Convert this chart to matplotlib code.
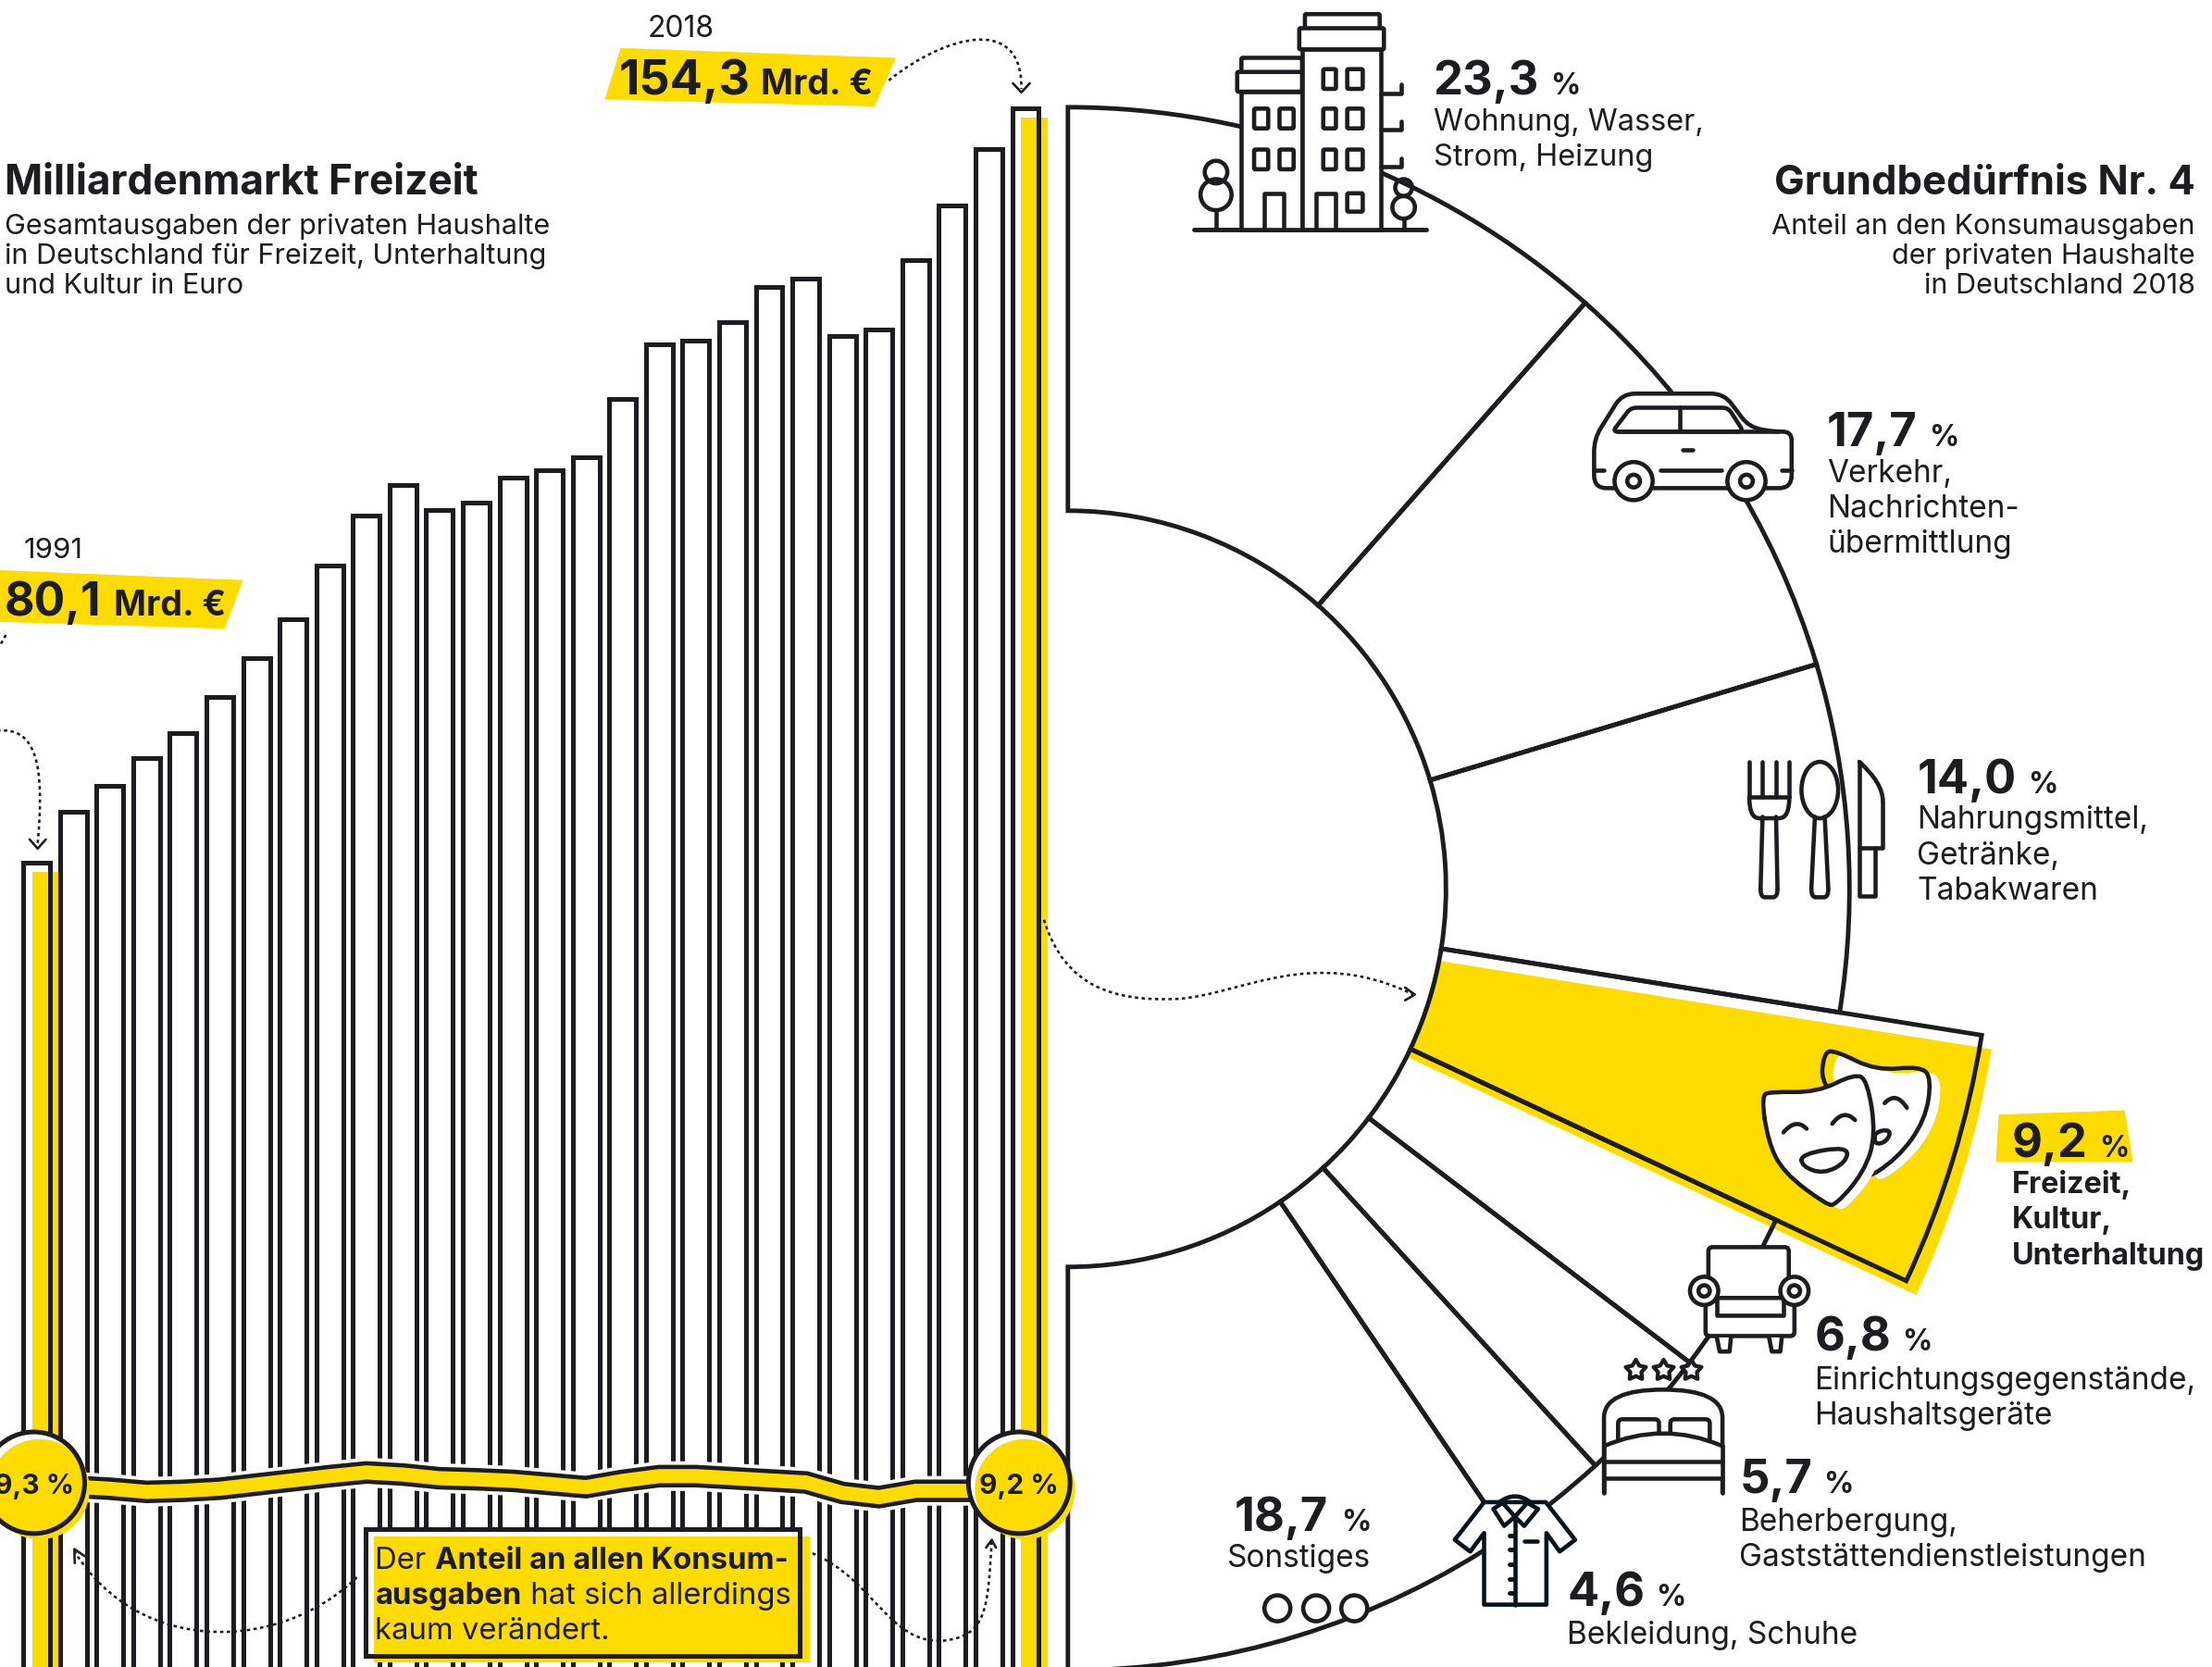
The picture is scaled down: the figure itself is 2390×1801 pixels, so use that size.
import numpy as np
import matplotlib
matplotlib.use("Agg")
import matplotlib.pyplot as plt
from matplotlib.patches import Wedge, Polygon, Circle, Rectangle, FancyBboxPatch, PathPatch, Ellipse
from matplotlib.path import Path

plt.rcParams['font.family'] = ['Inter', 'Open Sans', 'DejaVu Sans']

# ---------- data ----------
years = list(range(1991, 2019))
spending = [80.1, 85.1, 87.7, 90.4, 92.9, 96.4, 100.2, 104.1, 109.3, 114.3, 117.3, 114.8, 115.5, 118.0,
            118.7, 120.0, 125.7, 131.1, 131.5, 133.3, 136.8, 137.6, 131.9, 132.6, 139.4, 144.8, 150.3, 154.3]
share = [9.30, 9.28, 9.24, 9.18, 9.20, 9.24, 9.32, 9.40, 9.48, 9.55, 9.51, 9.44, 9.42, 9.39,
         9.33, 9.27, 9.39, 9.48, 9.48, 9.44, 9.40, 9.36, 9.16, 9.08, 9.20, 9.20, 9.20, 9.20]
segments = [23.3, 17.7, 14.0, 9.2, 6.8, 5.7, 4.6, 18.7]
seg_labels = ["23,3", "17,7", "14,0", "9,2", "6,8", "5,7", "4,6", "18,7"]
seg_names = [["Wohnung, Wasser,", "Strom, Heizung"],
             ["Verkehr,", "Nachrichten-", "übermittlung"],
             ["Nahrungsmittel,", "Getränke,", "Tabakwaren"],
             ["Freizeit,", "Kultur,", "Unterhaltung"],
             ["Einrichtungsgegenstände,", "Haushaltsgeräte"],
             ["Beherbergung,", "Gaststättendienstleistungen"],
             ["Bekleidung, Schuhe"],
             ["Sonstiges"]]
title_left = "Milliardenmarkt Freizeit"
sub_left = ["Gesamtausgaben der privaten Haushalte", "in Deutschland für Freizeit, Unterhaltung", "und Kultur in Euro"]
title_right = "Grundbedürfnis Nr. 4"
sub_right = ["Anteil an den Konsumausgaben", "der privaten Haushalte", "in Deutschland 2018"]

# ---------- canvas ----------
DARK = '#1d1d21'
YEL = '#ffdc00'
W, H = 1568.0, 1181.6
S = 2390 / W
def L(u):
    return u * S * 0.72

fig = plt.figure(figsize=(23.9, 18.01), dpi=100, facecolor='white')

def yr_at(x):
    return 1991 + (x - 26) / 25.96
def val_at(y):
    return 80.1 + (611.5 - y) * 74.2 / 534.5
def shr_at(y):
    return 9.3 + (1053 - y) / 37.2

# ---------- bars ----------
axb = fig.add_axes([0, 0, 1, 1], zorder=1)
axb.set_xlim(yr_at(0), yr_at(W)); axb.set_ylim(val_at(H), val_at(0)); axb.axis('off')
bw = 19 / 25.96
axb.bar(years, spending, width=bw, color='white', edgecolor='none', zorder=1)
for i in (0, len(years) - 1):
    axb.bar(years[i] + 0.25, spending[i] - 0.9, width=bw, color=YEL, edgecolor='none', zorder=2)
axb.bar(years, spending, width=bw, facecolor='none', edgecolor=DARK, linewidth=L(3.3), zorder=3)

# ---------- share band ----------
axs = fig.add_axes([0, 0, 1, 1], zorder=2)
axs.set_xlim(yr_at(0), yr_at(W)); axs.set_ylim(shr_at(H), shr_at(0)); axs.axis('off')
axs.patch.set_alpha(0)
axs.plot(years, share, color='white', lw=L(21), solid_capstyle='butt', solid_joinstyle='miter')
axs.plot(years, share, color=DARK, lw=L(16), solid_capstyle='butt', solid_joinstyle='miter')
axs.plot(years, share, color=YEL, lw=L(10), solid_capstyle='butt', solid_joinstyle='miter')

# ---------- half donut ----------
cx, cy, R_out, R_in, R_hi = 757, 630, 554, 268, 656
axp = fig.add_axes([0, 0, 1, 1], zorder=3)
axp.patch.set_alpha(0)
wedges, _ = axp.pie(segments + [100], center=(cx, cy), radius=R_out, startangle=-90.5, counterclock=True,
                    wedgeprops=dict(width=R_out - R_in, linewidth=L(3.2), edgecolor=DARK, joinstyle='miter'))
wedges[-1].set_visible(False)
wedges[0].set_theta1(-90)
wedges[-2].set_theta2(90)
wedges[2].set_theta2(wedges[2].theta2 + 0.6)
wedges[3].set_theta1(wedges[3].theta1 + 0.6)
for w in wedges[:-1]:
    w.set_facecolor('none')
    w.set_zorder(5)
hi = wedges[3]
hi.set_radius(R_hi); hi.set_width(R_hi - R_in); hi.set_zorder(6)
axp.add_patch(Wedge((cx + 7, cy + 10), R_hi, hi.theta1, hi.theta2, fc=YEL, ec='none', zorder=1))
axp.add_patch(Wedge((cx, cy), R_in, -90, 90, fc='white', ec='none', zorder=2))
axp.set_xlim(0, W); axp.set_ylim(H, 0); axp.set_aspect('auto'); axp.axis('off')

# ---------- overlay ----------
ax = fig.add_axes([0, 0, 1, 1], zorder=4)
ax.set_xlim(0, W); ax.set_ylim(H, 0); ax.axis('off'); ax.patch.set_alpha(0)

LW = L(3.0)
def line(pts, closed=False, fc='none', lw=LW, ec=DARK, z=10, **k):
    ax.add_patch(Polygon(pts, closed=closed, fc=fc, ec=ec, lw=lw, zorder=z, joinstyle='round', capstyle='round', **k))
def rrect(x0, y0, x1, y1, r=2, fc='none', lw=LW, z=10):
    ax.add_patch(FancyBboxPatch((x0 + r, y0 + r), x1 - x0 - 2 * r, y1 - y0 - 2 * r,
                                boxstyle=f"round,pad={r},rounding_size={r}", fc=fc, ec=DARK, lw=lw, zorder=z))
def circ(x, y, r, fc='white', lw=LW, z=10, ec=DARK):
    ax.add_patch(Circle((x, y), r, fc=fc, ec=ec, lw=lw, zorder=z))
def smooth(pts, closed=True, fc='none', ec=DARK, lw=LW, z=10):
    pts = [np.array(p, float) for p in pts]
    n = len(pts)
    if closed:
        verts = [(pts[-1] + pts[0]) / 2]; codes = [Path.MOVETO]
        for i in range(n):
            verts += [pts[i], (pts[i] + pts[(i + 1) % n]) / 2]; codes += [Path.CURVE3, Path.CURVE3]
    else:
        verts = [pts[0]]; codes = [Path.MOVETO]
        for i in range(1, n - 1):
            end = (pts[i] + pts[i + 1]) / 2 if i < n - 2 else pts[i + 1]
            verts += [pts[i], end]; codes += [Path.CURVE3, Path.CURVE3]
    ax.add_patch(PathPatch(Path(verts, codes), fc=fc, ec=ec, lw=lw, zorder=z, capstyle='round', joinstyle='round'))
def round_poly(pts, r, fc='none', z=10):
    pts = [np.array(p, float) for p in pts]
    n = len(pts); verts = []; codes = []
    for i in range(n):
        p, a, b = pts[i], pts[i - 1], pts[(i + 1) % n]
        u1 = (a - p) / np.linalg.norm(a - p); u2 = (b - p) / np.linalg.norm(b - p)
        rr = min(r, np.linalg.norm(a - p) / 2, np.linalg.norm(b - p) / 2)
        verts += [p + u1 * rr, p, p + u2 * rr]
        codes += [Path.LINETO if i else Path.MOVETO, Path.CURVE3, Path.CURVE3]
    verts.append(verts[0]); codes.append(Path.CLOSEPOLY)
    ax.add_patch(PathPatch(Path(verts, codes), fc=fc, ec=DARK, lw=LW, zorder=z, joinstyle='round'))

def bez(*segs, head=None, lw=L(1.7)):
    verts = [segs[0][0]]; codes = [Path.MOVETO]
    for s in segs:
        verts += list(s[1:]); codes += [Path.CURVE4] * 3
    ax.add_patch(PathPatch(Path(verts, codes), fc='none', ec=DARK, lw=lw, ls=(0, (1.4, 1.4)), zorder=12))
    if head:
        line(head, lw=L(1.7), z=12)

# --- text helpers ---
rend = fig.canvas.get_renderer()
def T(x, y, s, size=24, weight='normal', ha='left', z=20):
    return ax.text(x, y, s, fontsize=size, fontweight=weight, color=DARK, ha=ha, va='baseline', zorder=z)
def run(x, y, parts):
    for s, size, weight, gap in parts:
        t = T(x, y, s, size, weight)
        x += t.get_window_extent(rend).width / S + gap

# --- yellow label backgrounds ---
for poly in ([(440, 34), (635, 41), (620, 75.5), (428.7, 70.5)],
             [(-5, 404), (172.3, 411.2), (159.2, 445.6), (-5, 440.6)],
             [(1416.8, 790), (1506, 787), (1512, 823.6), (1414.8, 823.6)]):
    ax.add_patch(Polygon(poly, closed=True, fc=YEL, ec='none', zorder=5))

# --- titles ---
T(3, 137.5, title_left, 31.8, 'bold')
for i, s in enumerate(sub_left):
    T(3, 166 + 21 * i, s, 22)
T(1556, 137.5, title_right, 31.4, 'bold', ha='right')
for i, s in enumerate(sub_right):
    T(1556, 166 + 21 * i, s, 22, ha='right')

T(459, 26, "2018", 23)
T(17, 395.5, "1991", 22.5)
run(439, 67, [("154,3", 37.5, 'bold', 7), ("Mrd. €", 27, 'bold', 0)])
run(3, 436.5, [("80,1", 36, 'bold', 9), ("Mrd. €", 27, 'bold', 0)])

# --- segment labels ---
pos = [(1016, 67, 25), (1295, 316, 25), (1359, 562, 25), (1426, 820, 25.2),
       (1286, 957.5, 25), (1233, 1058, 25), (1111, 1138, 25)]
dy0 = [25.5, 25.5, 25.5, 25.5, 27, 27, 27]
sizes = [23.4, 24, 24, 23.3, 24, 24, 24]
for i, (x, y, dy) in enumerate(pos):
    run(x, y, [(seg_labels[i], 36.5, 'bold', 8), ("%", 23, 'bold', 0)])
    for j, s in enumerate(seg_names[i]):
        T(x, y + dy0[i] + dy * j, s, sizes[i], 'bold' if i == 3 else 'normal')
run(875, 1085, [(seg_labels[7], 36.5, 'bold', 9), ("%", 23, 'bold', 0)])
T(870, 1110.7, seg_names[7][0], 24)
for x in (905.5, 933, 960):
    circ(x, 1140, 9.2, lw=L(3))

# --- circles ---
for x, label in ((24, "9,3 %"), (722.5, "9,2 %")):
    ax.add_patch(Circle((x, 1051), 36, fc='white', ec='none', zorder=6))
    ax.add_patch(Circle((x + 4, 1055.6), 35.5, fc=YEL, ec='none', zorder=7))
    ax.add_patch(Circle((x, 1051), 36, fc='none', ec=DARK, lw=L(3.3), zorder=8))
    ax.text(x, 1059, label, fontsize=21.5, fontweight='bold', color=DARK, ha='center', va='baseline', zorder=20)

# --- callout ---
ax.add_patch(Rectangle((259, 1084), 308, 90, fc='white', ec='none', zorder=6))
ax.add_patch(Rectangle((265, 1089), 309, 89, fc=YEL, ec='none', zorder=7))
ax.add_patch(Rectangle((259, 1084), 308, 90, fc='none', ec=DARK, lw=L(3.3), zorder=8))
run(266, 1112, [("Der ", 23.7, 'normal', 0), ("Anteil an allen Konsum-", 23.7, 'bold', 0)])
run(266, 1137, [("ausgaben", 23.7, 'bold', 0), (" hat sich allerdings", 23.7, 'normal', 0)])
T(266, 1162, "kaum verändert.", 23.7)

# --- dotted arrows ---
bez([(630, 57), (670, 25), (725, 10), (724, 63)], head=[(718, 59), (724, 65.5), (730, 59)])
bez([(-2, 518), (25, 515), (32, 540), (26.7, 598)], head=[(21, 595), (26.7, 601.5), (32.5, 595)])
bez([(4, 450), (3, 453), (1, 456), (-1, 458)])
bez([(740, 652), (755, 700), (790, 710), (835, 708)], [(835, 708), (880, 705), (930, 670), (1002, 705)],
    head=[(996, 700), (1003, 705), (996, 709)])
bez([(253, 1118), (200, 1170), (100, 1175), (53, 1100)], head=[(53, 1108), (52.7, 1098), (60, 1103)])
bez([(576, 1101), (620, 1120), (630, 1165), (668, 1163)], [(668, 1163), (700, 1160), (700, 1140), (703, 1093)],
    head=[(699, 1097), (703, 1091.5), (706, 1097)])

# --- building icon ---
line([(846, 163), (1011, 163)], lw=L(3.2))
ax.add_patch(Rectangle((880, 65), 43, 98, fc='white', ec=DARK, lw=LW, zorder=10))
ax.add_patch(Rectangle((923, 35), 56, 128, fc='white', ec=DARK, lw=LW, zorder=10))
rrect(880, 41, 923, 52, 1, 'white'); rrect(877, 51, 923, 65, 1, 'white')
rrect(925, 10, 978, 21, 1, 'white'); rrect(921, 20, 981, 35, 1, 'white')
for y in (49, 77, 106):
    rrect(938, y, 947, y + 14, 1); rrect(955, y, 966, y + 14, 1)
for y in (77, 106):
    rrect(889, y, 899, y + 14, 1); rrect(907, y, 917, y + 14, 1)
line([(896, 163), (896, 137), (910, 137), (910, 163)])
line([(933, 163), (933, 137), (947, 137), (947, 163)])
rrect(955, 137, 966, 150, 1)
for y in (66, 92, 118):
    line([(979, y), (993, y), (993, y - 6)])
line([(862, 149), (862, 163)]); line([(995, 155), (995, 163)])
circ(862, 122, 8, fc='none'); circ(862, 138, 11, fc='none')
circ(995, 133, 6, fc='none'); circ(995, 147, 8, fc='none')

# --- car icon ---
round_poly([(1130, 346), (1130, 311), (1150, 279), (1222, 279), (1240, 303), (1258, 306),
            (1270, 306), (1270, 346)], 9, fc='white')
line([(1147, 306), (1260, 306)])
round_poly([(1143, 306), (1156, 289), (1225, 289), (1236, 306)], 4)
line([(1191, 289), (1191, 306)]); line([(1193, 319), (1200, 319)], lw=L(3))
line([(1177, 333), (1220, 333)]); line([(1130, 333), (1137, 333)]); line([(1263, 333), (1270, 333)])
for x in (1158, 1238):
    circ(x, 341, 13.5); circ(x, 341, 4.5)

# --- cutlery ---
for x in (1240, 1249.4, 1258.8, 1268.4):
    line([(x, 540), (x, 565)])
line([(1240, 565), (1268.4, 565)])
smooth([(1240, 565), (1240, 580), (1254, 580), (1268.4, 580), (1268.4, 565)], closed=False)
line([(1249.4, 579), (1248, 630)]); line([(1259, 579), (1260, 630)])
smooth([(1248, 630), (1248, 636), (1254, 636), (1260, 636), (1260, 630)], closed=False)
ax.add_patch(Ellipse((1290, 560), 26, 40, fc='none', ec=DARK, lw=LW, zorder=10))
line([(1286.5, 579), (1284, 630)]); line([(1293.5, 579), (1296, 630)])
smooth([(1284, 630), (1284, 636), (1290, 636), (1296, 636), (1296, 630)], closed=False)
line([(1318, 601), (1318, 635), (1329.4, 635), (1329.4, 601)])
line([(1318, 540), (1318, 601), (1334.7, 601), (1334.7, 568)])
smooth([(1334.7, 568), (1334.7, 555), (1318, 540)], closed=False)

# --- masks ---
def mx(p):
    return [(1233.6 + a * .2187, 734.9 + b * .2187) for a, b in p]
front = [(68, 190), (100, 178), (250, 180), (370, 120), (412, 140), (440, 320), (400, 440), (310, 545),
         (280, 545), (140, 440), (90, 340)]
back = [(262, 165), (270, 50), (310, 45), (440, 110), (585, 95), (620, 135), (600, 270), (510, 395), (385, 475),
        (430, 300)]
smooth([(x + 7.6, y + 3) for x, y in mx(back)], fc='white', ec='none', lw=0, z=9)
smooth(mx(back), fc='none')
smooth([(x + 7, y + 3) for x, y in mx(front)], fc='white', ec='none', lw=0, z=10)
smooth(mx(front), fc='white', ec='none', lw=0, z=10)
smooth(mx(front), fc='none', z=11)
smooth(mx([(140, 310), (180, 262), (215, 298)]), closed=False, z=12)
smooth(mx([(298, 282), (335, 232), (372, 270)]), closed=False, z=12)
smooth(mx([(468, 215), (505, 175), (540, 230)]), closed=False)
smooth(mx([(197, 380), (348, 355), (345, 405), (270, 445), (200, 420)]), z=12)
smooth(mx([(435, 308), (490, 300), (475, 340), (435, 350)]), z=12)

# --- armchair ---
rrect(1211, 884, 1268, 932, 3, 'white')
rrect(1209, 920, 1272, 947, 3, 'white')
line([(1217, 921), (1217, 932), (1264, 932), (1264, 921)])
line([(1217, 948), (1219, 958), (1226, 958), (1227, 948)], fc='white')
line([(1254, 948), (1256, 958), (1262, 958), (1263, 948)], fc='white')
for x in (1208, 1272):
    circ(x, 915, 10); circ(x, 915, 4)

# --- stars ---
star = Path.unit_regular_star(5, innerCircle=0.55)
ax.scatter([1159, 1179, 1198.5], [971, 971, 971], marker=star, s=(7.5 * S * .72 * 2) ** 2, fc='white', ec=DARK,
           lw=L(2.8), zorder=10)

# --- bed ---
smooth([(1137, 1058), (1137, 1025), (1137, 985), (1221, 985), (1221, 1025), (1221, 1058)], closed=False, fc='white')
rrect(1147, 1006, 1176, 1024, 3, 'white'); rrect(1184, 1006, 1212, 1024, 3, 'white')
ax.add_patch(Rectangle((1137, 1025), 84, 23, fc='white', ec='none', zorder=10))
smooth([(1137, 1025), (1179, 1007), (1221, 1025)], closed=False, fc='white', z=10)
line([(1137, 1025), (1137, 1058)]); line([(1221, 1025), (1221, 1058)])
line([(1137, 1036), (1221, 1036)]); line([(1137, 1048), (1221, 1048)])

# --- shirt ---
def sx(p):
    return [(853 + a * .2187, 1049.9 + b * .2187) for a, b in p]
SH = '#07141c'
line(sx([(910, 68), (1110, 68), (1205, 190), (1155, 228), (1112, 168), (1112, 400), (910, 400), (910, 168),
         (865, 228), (815, 190)]), closed=True, fc='white', ec=SH)
smooth(sx([(960, 68), (1010, 30), (1060, 68)]), closed=False, ec=SH, z=11)
line(sx([(940, 90), (970, 70), (1010, 115), (975, 145)]), closed=True, ec=SH, fc='white', z=11)
line(sx([(1085, 90), (1050, 70), (1010, 115), (1040, 145)]), closed=True, ec=SH, fc='white', z=11)
line(sx([(1010, 115), (1010, 400)]), ec=SH, z=11)
line(sx([(1040, 195), (1082, 195)]), ec=SH, z=11)
for b in (175, 222, 268, 316, 362):
    line(sx([(992, b), (1000, b)]), ec=SH, z=11, lw=L(3.2))

fig.savefig("out.png", dpi=100, facecolor='white')
